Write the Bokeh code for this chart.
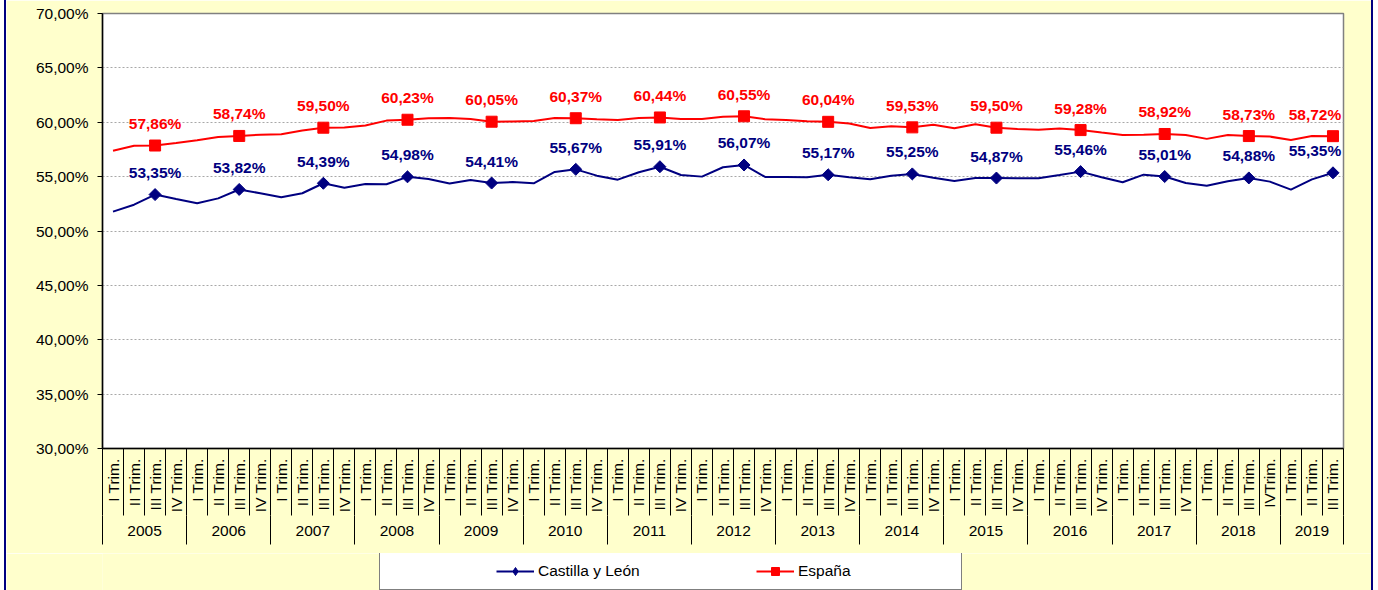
from math import pi
from bokeh.plotting import figure
from bokeh.layouts import column
from bokeh.models import FixedTicker, LinearAxis, Range1d, Legend, LegendItem
from bokeh.core.properties import value
from bokeh.embed import file_html
from bokeh.resources import INLINE

# ---------------- data ----------------
years = ["2005", "2006", "2007", "2008", "2009", "2010", "2011", "2012",
         "2013", "2014", "2015", "2016", "2017", "2018", "2019"]
quarters_per_year = [4, 4, 4, 4, 4, 4, 4, 4, 4, 4, 4, 4, 4, 4, 3]
q4 = ["I Trim.", "II Trim.", "III Trim.", "IV Trim."]
quarter_labels = q4 * 13 + ["I Trim.", "II Trim.", "III Trim.", "IVTrim."] + ["I Trim.", "II Trim.", "III Trim."]
series_names = ["Castilla y León", "España"]

castilla_leon = [
    51.78, 52.42, 53.35, 52.94,
    52.55, 53.00, 53.82, 53.47,
    53.10, 53.47, 54.39, 53.98,
    54.33, 54.30, 54.98, 54.79,
    54.36, 54.69, 54.41, 54.50,
    54.39, 55.43, 55.67, 55.09,
    54.72, 55.40, 55.91, 55.15,
    55.00, 55.86, 56.07, 54.97,
    54.97, 54.94, 55.17, 54.94,
    54.75, 55.09, 55.25, 54.90,
    54.60, 54.88, 54.87, 54.85,
    54.85, 55.15, 55.46, 54.94,
    54.48, 55.18, 55.01, 54.42,
    54.17, 54.57, 54.88, 54.54,
    53.80, 54.75, 55.35,
]
espana = [
    57.38, 57.84, 57.86, 58.10,
    58.35, 58.65, 58.74, 58.86,
    58.90, 59.25, 59.50, 59.52,
    59.70, 60.15, 60.23, 60.37,
    60.40, 60.30, 60.05, 60.06,
    60.12, 60.40, 60.37, 60.28,
    60.20, 60.40, 60.44, 60.30,
    60.30, 60.50, 60.55, 60.28,
    60.21, 60.09, 60.04, 59.88,
    59.48, 59.63, 59.53, 59.78,
    59.45, 59.82, 59.50, 59.39,
    59.30, 59.42, 59.28, 59.05,
    58.83, 58.86, 58.92, 58.83,
    58.47, 58.83, 58.73, 58.68,
    58.37, 58.74, 58.72,
]
y_ticks = [30, 35, 40, 45, 50, 55, 60, 65, 70]

# ---------------- derived ----------------
n = len(castilla_leon)
x = list(range(n))
lab_idx = [i for i in x if i % 4 == 2]
lab_x = [x[i] for i in lab_idx]
cyl_lab = [castilla_leon[i] for i in lab_idx]
esp_lab = [espana[i] for i in lab_idx]
fmt = lambda v: f"{v:.2f}".replace(".", ",") + "%"
cyl_txt = [fmt(v) for v in cyl_lab]
esp_txt = [fmt(v) for v in esp_lab]
# keep the last label inside the plot area (shifted left like the original)
lab_dx = [0] * (len(lab_x) - 1) + [-18]

q_bounds = [i - 0.5 for i in range(n + 1)]
starts = []
s = 0
for c in quarters_per_year:
    starts.append(s)
    s += c
year_centers = [st + (c - 1) / 2 for st, c in zip(starts, quarters_per_year)]
year_bounds = [st - 0.5 for st in starts] + [s - 0.5]

FONT = "Liberation Sans"
FS = "15.5px"
NAVY = "#000080"
RED = "#FF0000"
BG = "#FFFFCC"

p = figure(frame_width=1241, frame_height=435,
           x_range=Range1d(-0.5, n - 0.5), y_range=Range1d(y_ticks[0], y_ticks[-1]),
           output_backend="svg", toolbar_location=None,
           min_border_left=96, min_border_right=28, min_border_top=13, min_border_bottom=105,
           background_fill_color="white", border_fill_color=BG)
p.outline_line_color = "#808080"
p.outline_line_width = 1.5

# y axis
yax = p.yaxis[0]
yax.ticker = FixedTicker(ticks=y_ticks)
yax.major_label_overrides = {t: f"{t:.2f}".replace(".", ",") + "%" for t in y_ticks}
yax.major_tick_out = 5
yax.major_tick_in = 0
yax.major_tick_line_color = "black"
yax.axis_line_color = "black"
yax.axis_line_width = 1.5
yax.major_label_standoff = 9
yax.major_label_text_font = FONT
yax.major_label_text_font_size = FS
yax.major_label_text_color = "black"

p.ygrid.grid_line_color = "#A8A8A8"
p.ygrid.grid_line_dash = "2 2"
p.xgrid.visible = False

# x axis: quarters
xax = p.xaxis[0]
xax.ticker = FixedTicker(ticks=x, minor_ticks=q_bounds)
xax.major_label_overrides = {i: quarter_labels[i] for i in x}
xax.major_label_orientation = pi / 2
xax.major_tick_line_color = None
xax.major_tick_out = 0
xax.major_tick_in = 0
xax.minor_tick_out = 67
xax.minor_tick_in = 0
xax.minor_tick_line_color = "black"
xax.axis_line_color = "black"
xax.axis_line_width = 1.5
xax.major_label_standoff = -57
xax.major_label_text_font = FONT
xax.major_label_text_font_size = FS
xax.major_label_text_color = "black"

# x axis: years
yrax = LinearAxis(ticker=FixedTicker(ticks=year_centers, minor_ticks=year_bounds),
                  major_label_overrides={c: yv for c, yv in zip(year_centers, years)})
yrax.axis_line_color = None
yrax.major_tick_line_color = None
yrax.major_tick_out = 0
yrax.major_tick_in = 0
yrax.minor_tick_out = 29
yrax.minor_tick_in = 0
yrax.minor_tick_line_color = "black"
yrax.major_label_standoff = -19
yrax.major_label_text_font = FONT
yrax.major_label_text_font_size = FS
yrax.major_label_text_color = "black"
p.add_layout(yrax, "below")

# series
p.line(x, castilla_leon, line_color=NAVY, line_width=2)
p.scatter(lab_x, cyl_lab, marker="square", angle=pi / 4, size=8.5, fill_color=NAVY, line_color=NAVY)
p.line(x, espana, line_color=RED, line_width=2)
p.scatter(lab_x, esp_lab, marker="square", size=11, fill_color=RED, line_color=RED)

p.text(lab_x, cyl_lab, text=cyl_txt, x_offset=lab_dx, y_offset=-22, text_align="center",
       text_baseline="middle", text_font=value(FONT), text_font_style="bold",
       text_font_size=FS, text_color=NAVY)
p.text(lab_x, esp_lab, text=esp_txt, x_offset=lab_dx, y_offset=-22, text_align="center",
       text_baseline="middle", text_font=value(FONT), text_font_style="bold",
       text_font_size=FS, text_color=RED)

# ---------------- legend strip (key glyphs use the same series, out of its view) ----------------
pl = figure(frame_width=1365, frame_height=37, x_range=Range1d(0, 1), y_range=Range1d(0, 1),
            x_axis_type=None, y_axis_type=None, output_backend="svg", toolbar_location=None,
            min_border=0, background_fill_color=BG, border_fill_color=BG)
pl.outline_line_color = None
k1 = pl.line(x, castilla_leon, line_color=NAVY, line_width=2)
k1m = pl.scatter(lab_x, cyl_lab, marker="diamond", size=10, fill_color=NAVY, line_color=NAVY)
k2 = pl.line(x, espana, line_color=RED, line_width=2)
k2m = pl.scatter(lab_x, esp_lab, marker="square", size=10, fill_color=RED, line_color=RED)

legend = Legend(items=[LegendItem(label=series_names[0], renderers=[k1, k1m]),
                       LegendItem(label=series_names[1], renderers=[k2, k2m])],
                orientation="horizontal", location=(373, 0),
                border_line_color="black", border_line_width=1,
                background_fill_color="white", background_fill_alpha=1.0,
                padding=8, spacing=63, label_standoff=4,
                glyph_width=38, glyph_height=20, label_height=20, label_width=155,
                label_text_font=FONT, label_text_font_size=FS, label_text_color="black",
                title=" ", title_location="left", title_standoff=107,
                title_text_font_size="1px", margin=0)
pl.add_layout(legend, "center")

layout = column(p, pl, spacing=0)
layout.styles = {"margin-left": "4px",
                 "border-left": "2px solid #000080", "border-right": "2px solid #000080"}
open("out.html", "w").write(file_html(layout, INLINE))
